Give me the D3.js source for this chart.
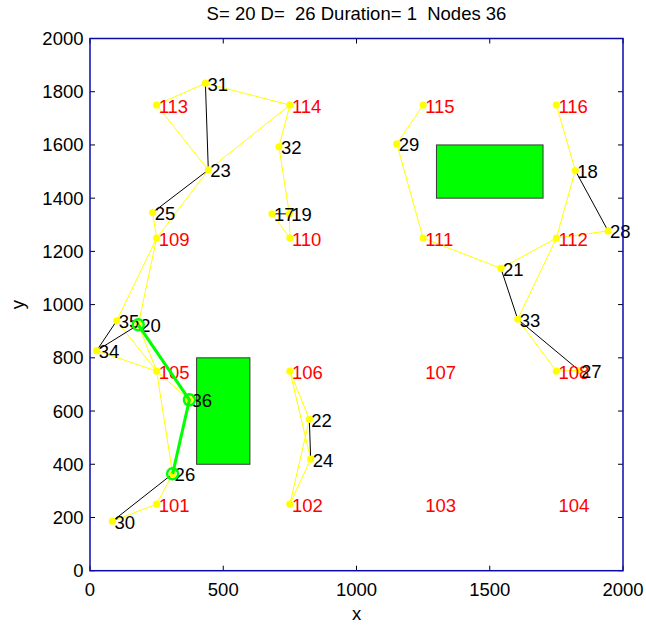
<!DOCTYPE html>
<html>
<head>
<meta charset="utf-8">
<script src="https://cdn.jsdelivr.net/npm/d3@7"></script>
<style>
  body { margin: 0; background: #fff; }
  text { font-family: "Liberation Sans", Arial, sans-serif; white-space: pre; }
</style>
</head>
<body>
<div id="chart"></div>
<script>
// fixed grid nodes (red labels)
var gridIds = [101, 102, 103, 104, 105, 106, 107, 108, 109, 110, 111, 112, 113, 114, 115, 116];
var gridX   = [250, 750, 1250, 1750, 250, 750, 1250, 1750, 250, 750, 1250, 1750, 250, 750, 1250, 1750];
var gridY   = [250, 250, 250, 250, 750, 750, 750, 750, 1250, 1250, 1250, 1250, 1750, 1750, 1750, 1750];

// mobile nodes (black labels)
var nodeIds = [17, 18, 19, 20, 21, 22, 23, 24, 25, 26, 27, 28, 29, 30, 31, 32, 33, 34, 35, 36];
var nodeX   = [683, 1821, 748, 181, 1542, 823, 444, 828, 235, 310, 1835, 1944, 1151, 84, 433, 709, 1605, 25, 100, 373];
var nodeY   = [1341, 1504, 1341, 924, 1136, 569, 1506, 419, 1346, 364, 753, 1277, 1604, 186, 1832, 1593, 945, 827, 939, 642];

var yellowLinks = [
  [113, 31], [31, 114], [113, 23], [114, 23], [114, 32], [23, 109], [25, 109],
  [32, 19], [19, 110], [17, 110],
  [109, 35], [109, 20], [35, 105], [34, 105], [20, 105], [105, 36], [105, 26],
  [26, 101], [30, 101],
  [106, 22], [106, 24], [22, 102], [24, 102],
  [115, 29], [29, 111], [111, 21], [21, 112], [112, 28], [116, 18], [18, 112],
  [112, 33], [33, 108], [108, 27]
];
var blackLinks = [
  [31, 23], [23, 25], [17, 19], [35, 34], [34, 20], [26, 30], [22, 24],
  [18, 28], [21, 33], [33, 27]
];
var route = [20, 36, 26];

// obstacles: [x0, y0, x1, y1]
var obstacles = [[400, 400, 600, 800], [1300, 1400, 1700, 1600]];

var xTicks = [0, 500, 1000, 1500, 2000];
var yTicks = [0, 200, 400, 600, 800, 1000, 1200, 1400, 1600, 1800, 2000];
var title = "S= 20 D=  26 Duration= 1  Nodes 36";

var W = 646, H = 625;
var plot = {left: 90, right: 623, top: 38.5, bottom: 570.7};
var fs = 18.5;

var x = d3.scaleLinear().domain([0, 2000]).range([plot.left, plot.right]);
var y = d3.scaleLinear().domain([0, 2000]).range([plot.bottom, plot.top]);

var svg = d3.select("#chart").append("svg")
  .attr("width", W).attr("height", H);

// lookup positions
var pos = {};
gridIds.forEach(function(id, i) { pos[id] = [gridX[i], gridY[i]]; });
nodeIds.forEach(function(id, i) { pos[id] = [nodeX[i], nodeY[i]]; });

var used = {};
yellowLinks.concat(blackLinks).forEach(function(l) { used[l[0]] = 1; used[l[1]] = 1; });

svg.append("g").selectAll("rect")
  .data(obstacles).enter().append("rect")
  .attr("x", function(d) { return x(d[0]); })
  .attr("y", function(d) { return y(d[3]); })
  .attr("width", function(d) { return x(d[2]) - x(d[0]); })
  .attr("height", function(d) { return y(d[1]) - y(d[3]); })
  .attr("fill", "#00ff00")
  .attr("stroke", "#3a3a3a")
  .attr("stroke-width", 1);

function drawLinks(links, color) {
  svg.append("g").selectAll("line")
    .data(links).enter().append("line")
    .attr("x1", function(d) { return x(pos[d[0]][0]); })
    .attr("y1", function(d) { return y(pos[d[0]][1]); })
    .attr("x2", function(d) { return x(pos[d[1]][0]); })
    .attr("y2", function(d) { return y(pos[d[1]][1]); })
    .attr("stroke", color)
    .attr("stroke-width", 1);
}
drawLinks(yellowLinks, "#ffff00");
drawLinks(blackLinks, "#000");

var allIds = gridIds.concat(nodeIds).filter(function(id) { return used[id]; });
svg.append("g").selectAll("circle")
  .data(allIds).enter().append("circle")
  .attr("cx", function(d) { return x(pos[d][0]); })
  .attr("cy", function(d) { return y(pos[d][1]); })
  .attr("r", 3.6)
  .attr("fill", "#ffff00");

// labels
svg.append("g").selectAll("text")
  .data(gridIds).enter().append("text")
  .attr("x", function(d) { return x(pos[d][0]) + 2; })
  .attr("y", function(d) { return y(pos[d][1]) + 7.5; })
  .attr("font-size", fs)
  .attr("fill", "#ff0000")
  .text(function(d) { return d; });

svg.append("g").selectAll("text")
  .data(nodeIds).enter().append("text")
  .attr("x", function(d) { return x(pos[d][0]) + 2; })
  .attr("y", function(d) { return y(pos[d][1]) + 7.5; })
  .attr("font-size", fs)
  .attr("fill", "#000")
  .text(function(d) { return d; });

// route
var line = d3.line()
  .x(function(d) { return x(pos[d][0]); })
  .y(function(d) { return y(pos[d][1]); });
svg.append("path")
  .datum(route)
  .attr("d", line)
  .attr("fill", "none")
  .attr("stroke", "#00ff00")
  .attr("stroke-width", 3);
svg.append("g").selectAll("circle")
  .data(route).enter().append("circle")
  .attr("cx", function(d) { return x(pos[d][0]); })
  .attr("cy", function(d) { return y(pos[d][1]); })
  .attr("r", 5.5)
  .attr("fill", "none")
  .attr("stroke", "#00ff00")
  .attr("stroke-width", 2.5);

// axes
var tl = 5;
var axisG = svg.append("g");
xTicks.forEach(function(t) {
  axisG.append("line").attr("x1", x(t)).attr("x2", x(t))
    .attr("y1", plot.bottom).attr("y2", plot.bottom - tl).attr("stroke", "#000");
  axisG.append("line").attr("x1", x(t)).attr("x2", x(t))
    .attr("y1", plot.top).attr("y2", plot.top + tl).attr("stroke", "#000");
  axisG.append("text").attr("x", x(t)).attr("y", plot.bottom + 25)
    .attr("text-anchor", "middle").attr("font-size", fs).text(t);
});
yTicks.forEach(function(t) {
  axisG.append("line").attr("x1", plot.left).attr("x2", plot.left + tl)
    .attr("y1", y(t)).attr("y2", y(t)).attr("stroke", "#000");
  axisG.append("line").attr("x1", plot.right).attr("x2", plot.right - tl)
    .attr("y1", y(t)).attr("y2", y(t)).attr("stroke", "#000");
  axisG.append("text").attr("x", plot.left - 6.5).attr("y", y(t) + 6.5)
    .attr("text-anchor", "end").attr("font-size", fs).text(t);
});

svg.append("rect")
  .attr("x", plot.left).attr("y", plot.top)
  .attr("width", plot.right - plot.left).attr("height", plot.bottom - plot.top)
  .attr("fill", "none").attr("stroke", "#0a0aa8").attr("stroke-width", 1.5);

svg.append("text").attr("x", (plot.left + plot.right) / 2).attr("y", 20)
  .attr("text-anchor", "middle").attr("font-size", fs).text(title);
svg.append("text").attr("x", (plot.left + plot.right) / 2).attr("y", 620)
  .attr("text-anchor", "middle").attr("font-size", fs).text("x");
svg.append("text")
  .attr("transform", "translate(24," + ((plot.top + plot.bottom) / 2) + ") rotate(-90)")
  .attr("text-anchor", "middle").attr("font-size", fs).text("y");
</script>
</body>
</html>
